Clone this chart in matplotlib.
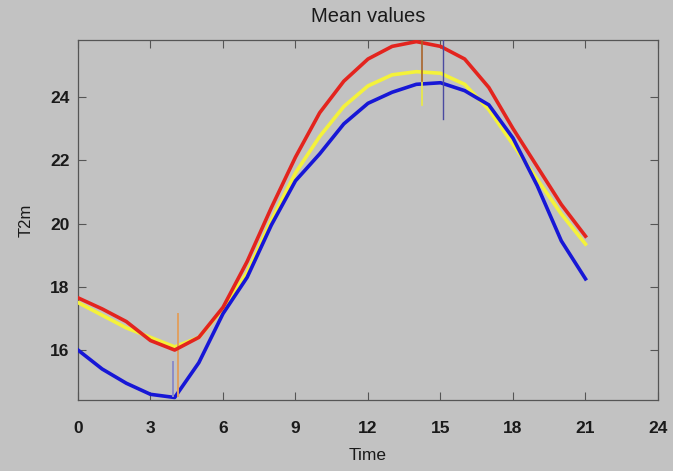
import numpy as np
import matplotlib.pyplot as plt

# hourly mean 2 m temperature for three runs
hours = list(range(22))
t2m_red = [17.65, 17.3, 16.9, 16.3, 16.0, 16.4, 17.35, 18.8, 20.5, 22.1, 23.5,
           24.5, 25.2, 25.6, 25.75, 25.6, 25.2, 24.3, 23.0, 21.8, 20.6, 19.6]
t2m_yellow = [17.5, 17.1, 16.7, 16.4, 16.1, 16.4, 17.3, 18.45, 20.1, 21.6, 22.75,
              23.7, 24.35, 24.7, 24.8, 24.75, 24.4, 23.6, 22.5, 21.4, 20.3, 19.35]
t2m_blue = [16.0, 15.4, 14.95, 14.6, 14.5, 15.6, 17.15, 18.3, 19.95, 21.35, 22.2,
            23.15, 23.8, 24.15, 24.4, 24.45, 24.2, 23.75, 22.7, 21.2, 19.45, 18.25]

# vertical markers at the extremes: (time, low, high)
mark_min_orange = (4.12, 14.55, 17.15)
mark_min_blue = (3.94, 14.55, 15.62)
mark_max_orange = (14.25, 24.5, 25.8)
mark_max_yellow = (14.25, 23.75, 24.8)
mark_max_blue = (15.12, 23.3, 25.8)

xticks = [0, 3, 6, 9, 12, 15, 18, 21, 24]
yticks = [16, 18, 20, 22, 24]

plt.rcParams["font.family"] = ["Liberation Sans", "DejaVu Sans"]
bg = "#c2c2c2"
fig = plt.figure(figsize=(6.73, 4.71), dpi=100, facecolor=bg)
ax = fig.add_axes([0.1159, 0.1507, 0.8618, 0.7643], facecolor=bg)

ax.plot(hours, t2m_yellow, color="#f4f23a", lw=2.6, zorder=3)
ax.plot(hours, t2m_blue, color="#1717d6", lw=2.6, zorder=4)
ax.plot(hours, t2m_red, color="#e3241e", lw=2.6, zorder=5)

def vmark(m, color, lw, z):
    ax.plot([m[0], m[0]], [m[1], m[2]], color=color, lw=lw, zorder=z)

vmark(mark_min_orange, "#e0a060", 1.4, 4.5)
vmark(mark_min_blue, "#8c8cc8", 1.4, 4.5)
vmark(mark_max_yellow, "#ecec40", 1.2, 6)
vmark(mark_max_orange, "#a8642a", 1.2, 6)
vmark(mark_max_blue, "#4a4aa0", 1.0, 6)

ax.set_xlim(0, 24)
ax.set_ylim(14.42, 25.8)
ax.set_xticks(xticks)
ax.set_yticks(yticks)
ax.tick_params(direction="in", length=6, width=0.8, color="#555555",
               top=True, right=True, labelsize=12.5)
ax.tick_params(axis="x", pad=15)
ax.tick_params(axis="y", pad=6)
for lab in ax.get_xticklabels() + ax.get_yticklabels():
    lab.set_fontweight("bold")
    lab.set_color("#1a1a1a")
for s in ax.spines.values():
    s.set_color("#555555")
    s.set_linewidth(0.9)

ax.set_title("Mean values", fontsize=14.5, pad=13, color="#1a1a1a")
ax.set_xlabel("Time", fontsize=12.5, labelpad=9, color="#1a1a1a")
ax.set_ylabel("T2m", fontsize=12, labelpad=12, color="#1a1a1a")

fig.savefig("out.png", dpi=100, facecolor=bg)
